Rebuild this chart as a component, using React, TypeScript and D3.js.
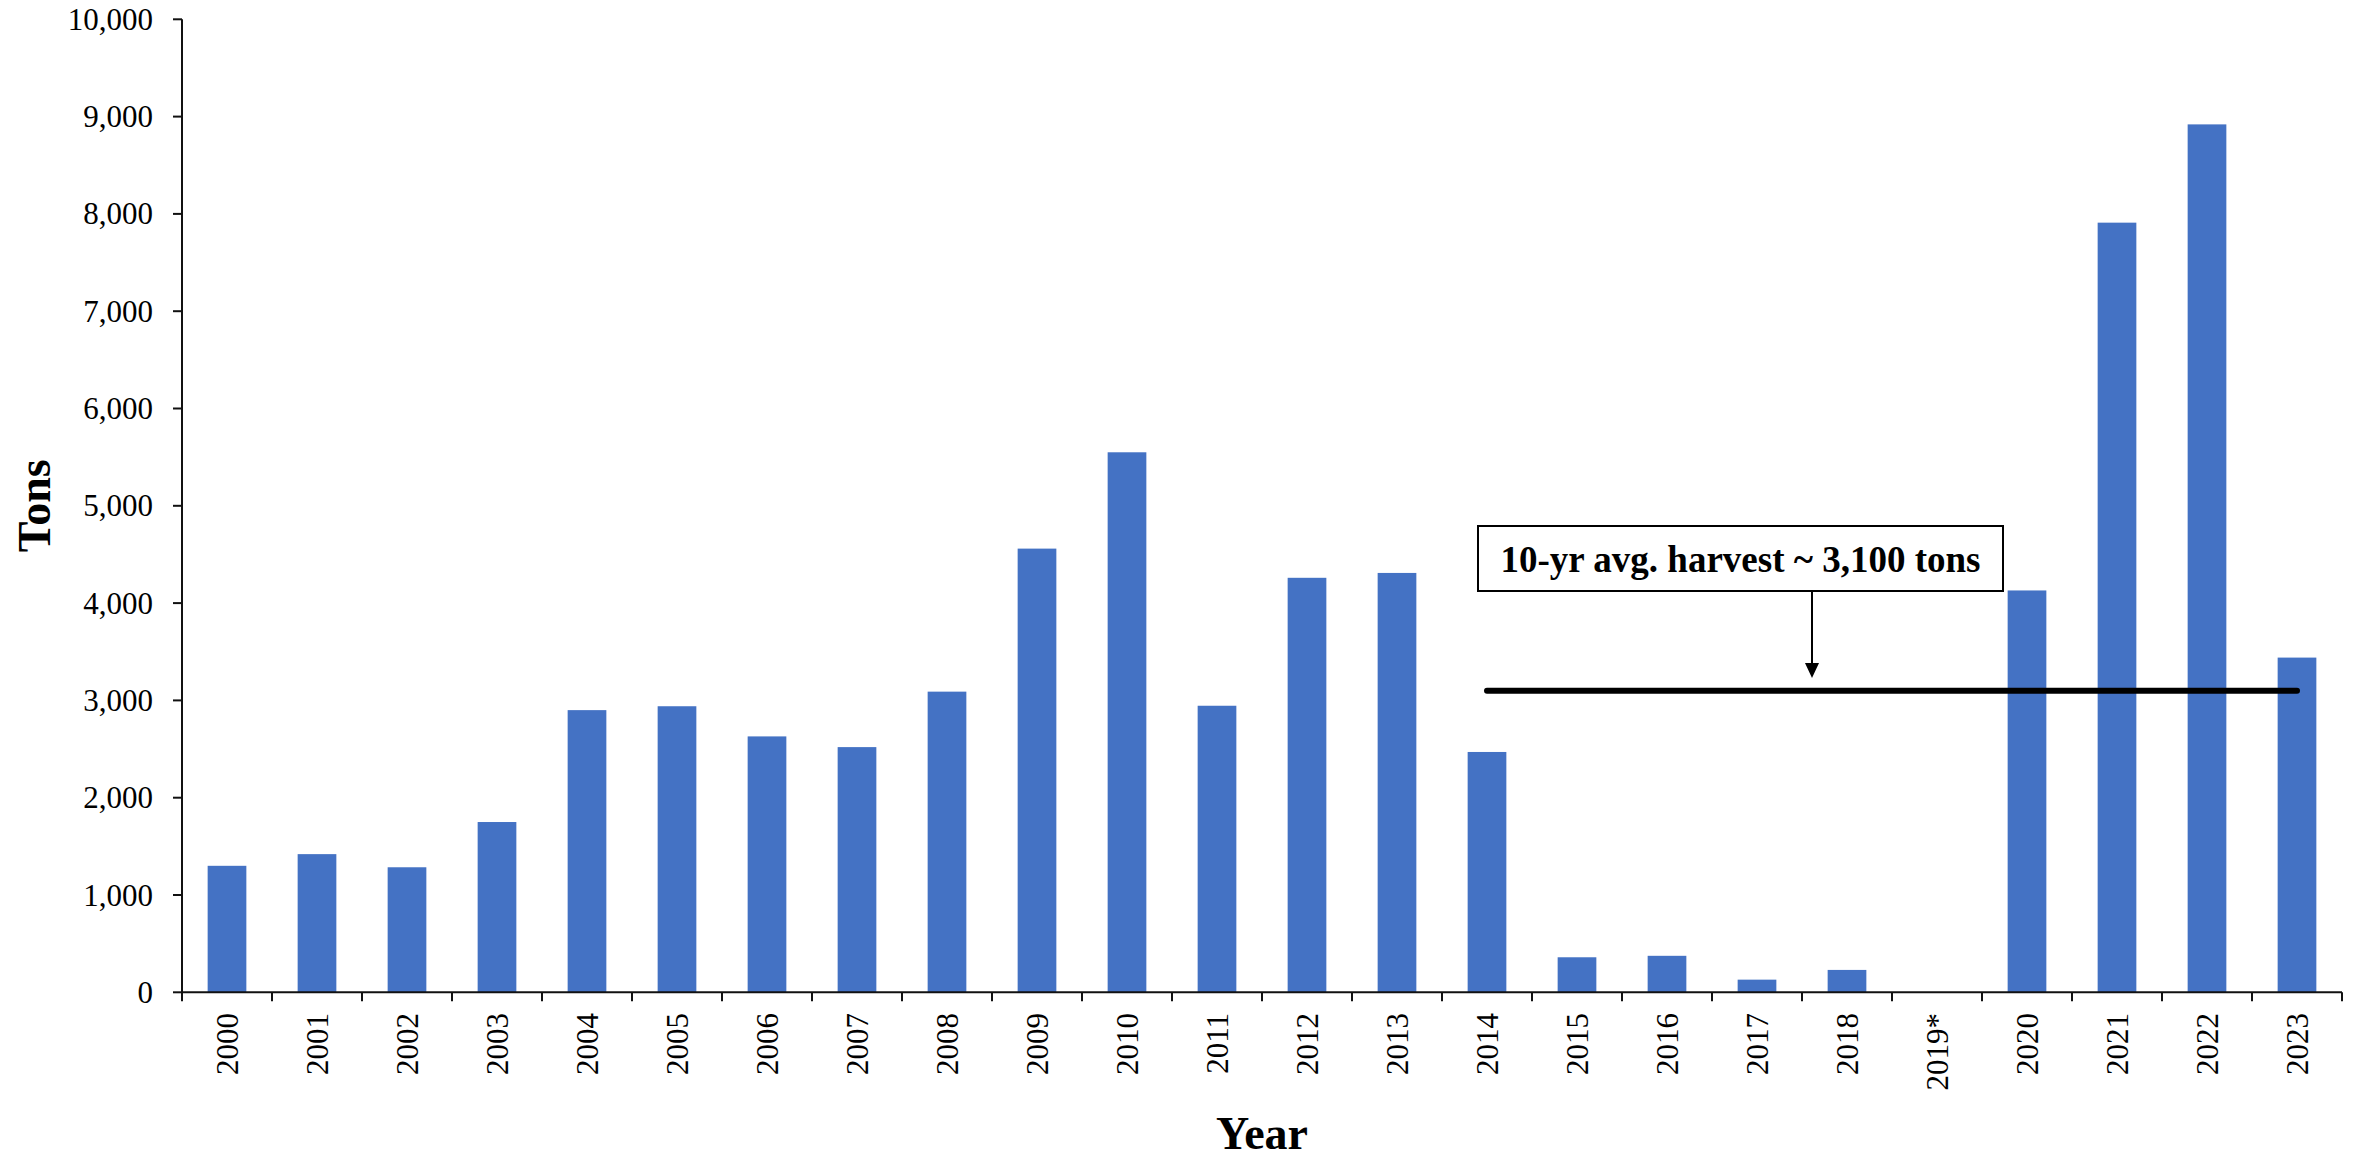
import React from "react";
import * as d3 from "d3";

const years = ["2000","2001","2002","2003","2004","2005","2006","2007","2008","2009","2010","2011","2012","2013","2014","2015","2016","2017","2018","2019*","2020","2021","2022","2023"];
const tons = [1300,1420,1285,1750,2900,2940,2630,2520,3090,4560,5550,2945,4260,4310,2470,360,375,130,230,0,4130,7910,8920,3440];
const yTicks = [0,1000,2000,3000,4000,5000,6000,7000,8000,9000,10000];
const avgValue = 3100;
const avgStart = "2014";
const avgEnd = "2023";
const annotationText = "10-yr avg. harvest ~ 3,100 tons";
const yTitle = "Tons";
const xTitle = "Year";

const W = 2356, H = 1158;
const left = 182, right = 2342, top = 19.3, bottom = 992.3;
const serif = "'Liberation Serif', 'Times New Roman', Times, serif";

export default function App() {
  const x = d3.scaleBand<string>().domain(years).range([left, right]).paddingInner(0.57).paddingOuter(0.285);
  const y = d3.scaleLinear().domain([0, 10000]).range([bottom, top]);
  const step = x.step();
  const fmt = d3.format(",");
  const boundaries = d3.range(years.length + 1).map(i => left + i * step);
  const cx = (d: string) => (x(d) as number) + x.bandwidth() / 2;
  const avgY = y(avgValue);
  const boxL = 1478, boxR = 2003, boxT = 526, boxB = 591;
  const arrowX = 1812, arrowTip = 678;

  return (
    <svg width={W} height={H} style={{ position: "absolute", left: 0, top: 0, background: "#fff" }} fontFamily={serif}>
      <rect x={0} y={0} width={W} height={H} fill="#fff" />
      {years.map((d, i) => (
        <rect key={d} x={x(d)} y={y(tons[i])} width={x.bandwidth()} height={bottom - y(tons[i])} fill="#4472C4" />
      ))}
      <line x1={left} x2={left} y1={top} y2={bottom} stroke="#111" strokeWidth={2} />
      {yTicks.map(t => (
        <g key={t}>
          <line x1={left - 9} x2={left} y1={y(t)} y2={y(t)} stroke="#111" strokeWidth={2} />
          <text x={153} y={y(t)} dy="0.34em" textAnchor="end" fontSize={31} fill="#000">{fmt(t)}</text>
        </g>
      ))}
      <line x1={left} x2={right} y1={bottom} y2={bottom} stroke="#111" strokeWidth={2} />
      {boundaries.map((b, i) => (
        <line key={i} x1={b} x2={b} y1={bottom} y2={bottom + 9} stroke="#111" strokeWidth={2} />
      ))}
      {years.map(d => (
        <text key={d} transform={`translate(${cx(d)},1013) rotate(-90)`} dy="0.35em" textAnchor="end" fontSize={31} fill="#000">{d}</text>
      ))}
      <text transform={`translate(50,${(top + bottom) / 2}) rotate(-90)`} textAnchor="middle" fontSize={46} fontWeight="bold" fill="#000">{yTitle}</text>
      <text x={(left + right) / 2} y={1149} textAnchor="middle" fontSize={46} fontWeight="bold" fill="#000">{xTitle}</text>
      <line x1={cx(avgStart)} x2={cx(avgEnd)} y1={avgY} y2={avgY} stroke="#000" strokeWidth={6} strokeLinecap="round" />
      <rect x={boxL} y={boxT} width={boxR - boxL} height={boxB - boxT} fill="#fff" stroke="#000" strokeWidth={2} />
      <text x={(boxL + boxR) / 2} y={572} textAnchor="middle" fontSize={37} fontWeight="bold" fill="#000">{annotationText}</text>
      <line x1={arrowX} x2={arrowX} y1={boxB} y2={arrowTip - 12} stroke="#000" strokeWidth={2} />
      <polygon points={`${arrowX - 7},${arrowTip - 15} ${arrowX + 7},${arrowTip - 15} ${arrowX},${arrowTip}`} fill="#000" />
    </svg>
  );
}
